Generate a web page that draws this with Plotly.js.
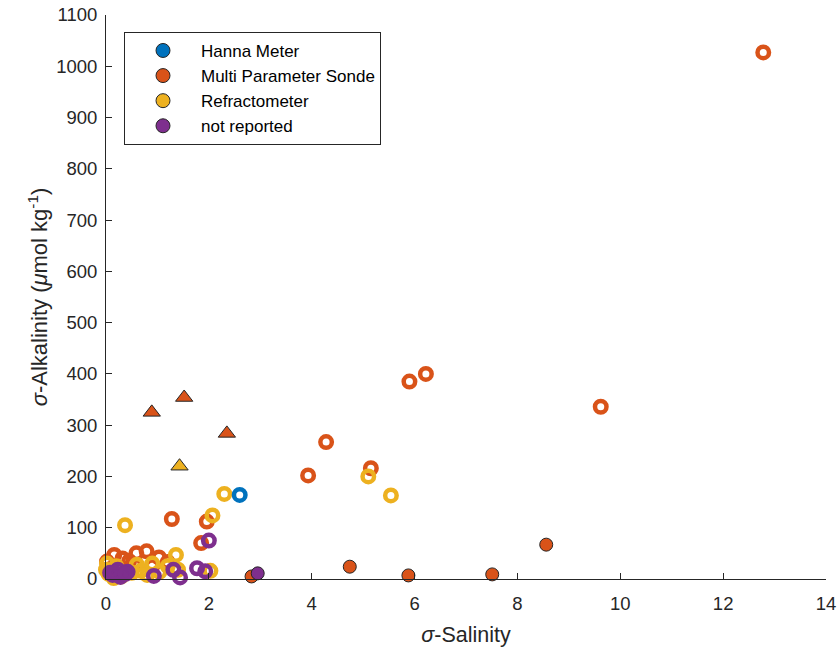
<!DOCTYPE html>
<html>
<head>
<meta charset="utf-8">
<script src="https://cdn.plot.ly/plotly-3.0.1.min.js"></script>
<style>html,body{margin:0;padding:0;background:#fff;}#chart{width:840px;height:652px;}</style>
</head>
<body>
<div id="chart"></div>
<script>
// Legend categories
const categories = ["Hanna Meter", "Multi Parameter Sonde", "Refractometer", "not reported"];
const colors = ["#0072BD", "#D95319", "#EDB120", "#7E2F8E"];

// Open circles
const hannaOpenX = [2.6];
const hannaOpenY = [164];

const sondeOpenX = [12.78, 9.62, 6.22, 5.9, 4.28, 3.93, 5.15, 1.28, 1.96, 1.85, 0.79, 0.59, 0.16, 1.03, 0.02, 1.2, 0.32, 0.45, 0.1, 0.55, 0.9];
const sondeOpenY = [1027, 336, 400, 385, 267, 202, 216, 117, 112, 70, 54, 50, 47, 42, 34, 33, 40, 35, 20, 28, 25];

const refrOpenX = [2.3, 2.07, 0.37, 5.1, 5.54, 1.36, 2.03, 0.02, 0.05, 0.6, 0.68, 1.2, 1.04, 1.4, 0.2, 0.3, 0.5, 0.8, 0.0, 0.15, 0.9];
const refrOpenY = [166, 124, 105, 200, 163, 47, 16, 30, 10, 28, 16, 25, 14, 18, 25, 5, 12, 8, 18, 2, 30];

const nrOpenX = [2.0, 1.77, 1.93, 1.44, 1.31, 0.93, 0.13, 0.32, 0.23, 0.42, 0.08, 0.28, 0.18, 0.38];
const nrOpenY = [75, 21, 15, 3, 18, 6, 8, 8, 18, 14, 12, 4, 12, 10];

// Triangles
const sondeTriX = [0.89, 1.52, 2.35];
const sondeTriY = [325, 354, 284];
const refrTriX = [1.43];
const refrTriY = [220];

// Filled circles
const sondeFillX = [2.83, 4.74, 5.88, 7.51, 8.56];
const sondeFillY = [5, 24, 7, 9, 67];
const nrFillX = [2.95];
const nrFillY = [11];

function openTrace(x, y, c) {
  return {x: x, y: y, type: 'scatter', mode: 'markers', showlegend: false, cliponaxis: false,
    marker: {symbol: 'circle-open', size: 11.5, color: c, line: {width: 4.5, color: c}}, hoverinfo: 'x+y'};
}
function triTrace(x, y, c) {
  return {x: x, y: y, type: 'scatter', mode: 'markers', showlegend: false, cliponaxis: false,
    marker: {symbol: 'triangle-up', size: 15, color: c, line: {width: 1, color: '#262626'}}};
}
function fillTrace(x, y, c) {
  return {x: x, y: y, type: 'scatter', mode: 'markers', showlegend: false, cliponaxis: false,
    marker: {symbol: 'circle', size: 13, color: c, line: {width: 1, color: '#262626'}}};
}

const data = [
  openTrace(sondeOpenX, sondeOpenY, colors[1]),
  openTrace(refrOpenX, refrOpenY, colors[2]),
  openTrace(hannaOpenX, hannaOpenY, colors[0]),
  openTrace(nrOpenX, nrOpenY, colors[3]),
  triTrace(sondeTriX, sondeTriY, colors[1]),
  triTrace(refrTriX, refrTriY, colors[2]),
  fillTrace(sondeFillX, sondeFillY, colors[1]),
  fillTrace(nrFillX, nrFillY, colors[3])
];
categories.forEach((name, i) => {
  data.push({x: [null], y: [null], type: 'scatter', mode: 'markers', name: name, showlegend: true,
    marker: {symbol: 'circle', size: 14, color: colors[i], line: {width: 1, color: '#262626'}}});
});

const axisCommon = {
  showgrid: false, zeroline: false, showline: true, linecolor: '#262626', linewidth: 1,
  ticks: 'inside', ticklen: 6, tickcolor: '#262626', tickwidth: 1,
  tickfont: {family: 'Liberation Sans, Arial, sans-serif', size: 18.5, color: '#262626'}
};

const layout = {
  width: 840, height: 652,
  margin: {l: 106, r: 14, t: 15, b: 73},
  paper_bgcolor: '#ffffff', plot_bgcolor: '#ffffff',
  font: {family: 'Liberation Sans, Arial, sans-serif', color: '#262626'},
  xaxis: Object.assign({}, axisCommon, {
    range: [0, 14], tick0: 0, dtick: 2, ticklabelstandoff: 8,
    title: {text: '<i>σ</i>-Salinity', font: {size: 21.5, color: '#262626'}, standoff: 13}
  }),
  yaxis: Object.assign({}, axisCommon, {
    range: [0, 1100], tick0: 0, dtick: 100, ticklabelstandoff: 4,
    title: {text: '<i>σ</i>-Alkalinity (<i>μ</i>mol kg<sup>-1</sup>)', font: {size: 22, color: '#262626'}, standoff: 2}
  }),
  legend: {
    x: 0.025, y: 0.97, xanchor: 'left', yanchor: 'top',
    bordercolor: '#262626', borderwidth: 1, bgcolor: '#ffffff',
    font: {size: 17, color: '#000000'}, itemsizing: 'trace', itemwidth: 66
  },
  showlegend: true
};

Plotly.newPlot('chart', data, layout, {displayModeBar: false, staticPlot: true});
</script>
</body>
</html>
